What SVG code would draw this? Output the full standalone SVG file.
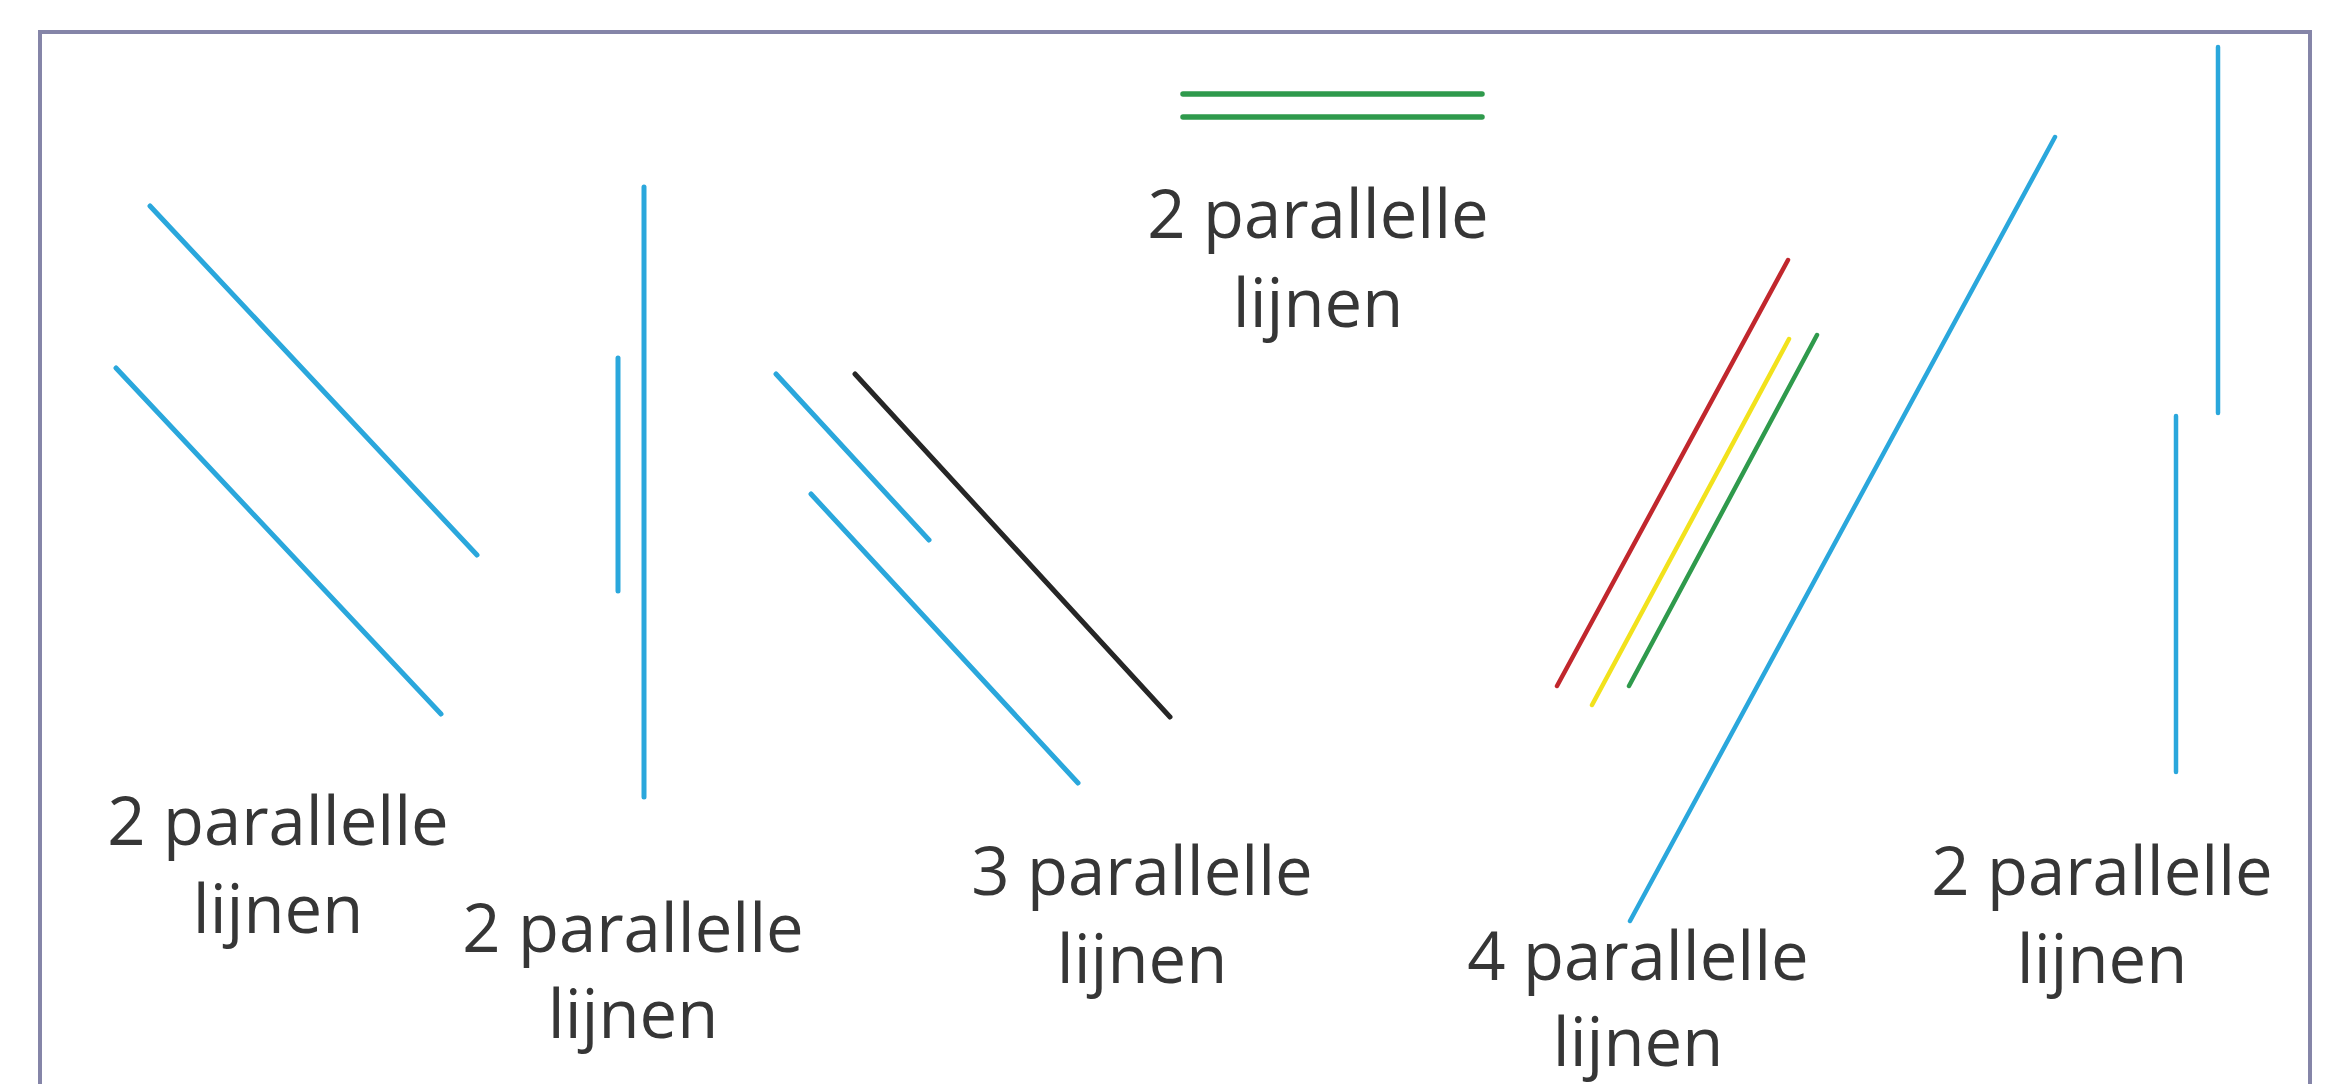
<svg xmlns="http://www.w3.org/2000/svg" width="2328" height="1084" viewBox="0 0 2328 1084">
<style>
.frame{fill:#ffffff;stroke:#8585a8;stroke-width:4}
.ln{stroke-linecap:round;fill:none}
.blue{stroke:#2aa7dc;stroke-width:5}
.thin{stroke-width:4.5}
.black{stroke:#262626;stroke-width:5}
.red{stroke:#c1272d}
.yellow{stroke:#f2e21c}
.green{stroke:#2f9a4c}
.lbl{font-family:"Open Sans","DejaVu Sans",sans-serif;font-size:67px;fill:#363636;text-anchor:middle}
</style>
<rect width="2328" height="1084" fill="#ffffff"/>
<rect class="frame" x="40" y="32" width="2270" height="1080"/>
<g id="connectors">
<g id="pair1">
<line class="ln blue" x1="150" y1="206" x2="477" y2="555"/>
<line class="ln blue" x1="116" y1="368" x2="441" y2="714"/>
</g>
<g id="pair2">
<line class="ln blue" x1="644" y1="187" x2="644" y2="797"/>
<line class="ln blue" x1="618" y1="358" x2="618" y2="591"/>
</g>
<g id="triple">
<line class="ln blue" x1="776" y1="374" x2="929" y2="540"/>
<line class="ln blue" x1="811" y1="494" x2="1078" y2="783"/>
<line class="ln black" x1="855" y1="374" x2="1170" y2="717"/>
</g>
<g id="pairTop">
<line class="ln green" style="stroke-width:5.5" x1="1183" y1="94" x2="1482" y2="94"/>
<line class="ln green" style="stroke-width:5.5" x1="1183" y1="117" x2="1482" y2="117"/>
</g>
<g id="quad">
<line class="ln red thin" x1="1788" y1="260" x2="1557" y2="686"/>
<line class="ln yellow thin" x1="1789" y1="339" x2="1592" y2="705"/>
<line class="ln green thin" x1="1817" y1="335" x2="1629" y2="686"/>
<line class="ln blue thin" x1="2055" y1="137" x2="1630" y2="921"/>
</g>
<g id="pair5">
<line class="ln blue thin" x1="2218" y1="47" x2="2218" y2="413"/>
<line class="ln blue thin" x1="2176" y1="416" x2="2176" y2="772"/>
</g>
</g>
<g id="label1"><text class="lbl" x="278" y="845">2 parallelle<tspan x="278" y="933">lijnen</tspan></text></g>
<g id="label2"><text class="lbl" x="633" y="952">2 parallelle<tspan x="633" y="1038">lijnen</tspan></text></g>
<g id="label3"><text class="lbl" x="1142" y="895">3 parallelle<tspan x="1142" y="983">lijnen</tspan></text></g>
<g id="labelTop"><text class="lbl" x="1318" y="238">2 parallelle<tspan x="1318" y="327">lijnen</tspan></text></g>
<g id="label4"><text class="lbl" x="1638" y="980">4 parallelle<tspan x="1638" y="1066">lijnen</tspan></text></g>
<g id="label5"><text class="lbl" x="2102" y="895">2 parallelle<tspan x="2102" y="983">lijnen</tspan></text></g>
</svg>
